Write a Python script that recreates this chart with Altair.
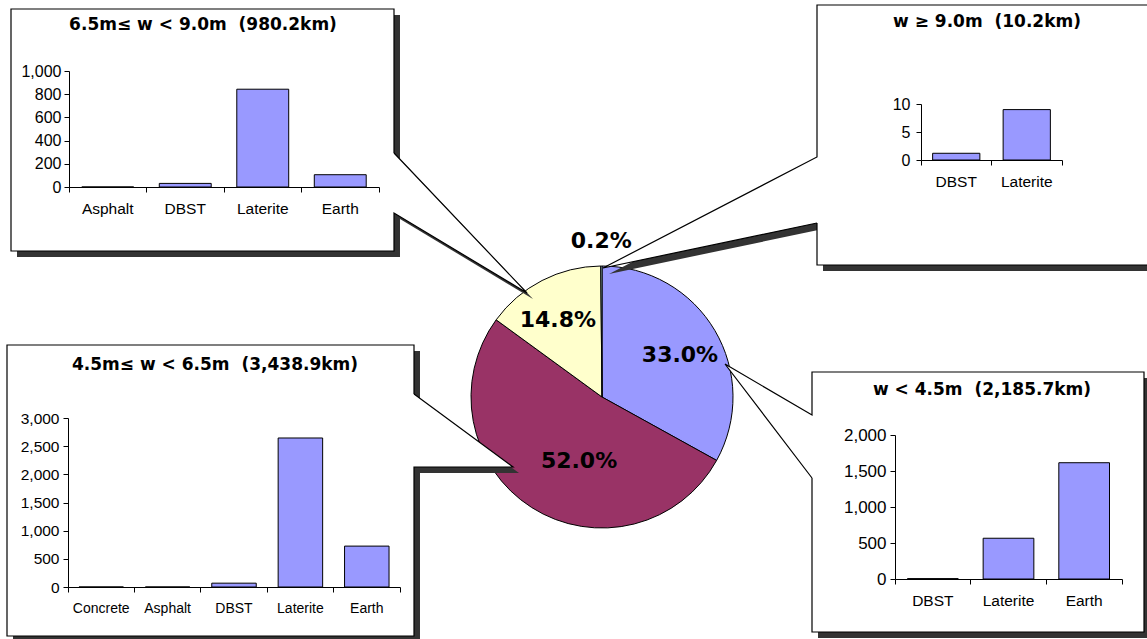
import altair as alt
import pandas as pd

# ---------------- data ----------------
PIE_GROUPS = ["w < 4.5m", "4.5m ≤ w < 6.5m", "6.5m ≤ w < 9.0m", "w ≥ 9.0m"]
PIE_KM = [2185.7, 3438.9, 980.2, 10.2]
PIE_LABELS = ["33.0%", "52.0%", "14.8%", "0.2%"]
PIE_COLORS = ["#9999FF", "#993366", "#FFFFCC", "#CCFFFF"]

A_TITLE = "6.5m\u2264 w < 9.0m\u00a0\u00a0(980.2km)"
A_CATS = ["Asphalt", "DBST", "Laterite", "Earth"]
A_VALS = [0, 31, 843, 106]
A_TICKS = [0, 200, 400, 600, 800, 1000]

B_TITLE = "w \u2265 9.0m\u00a0\u00a0(10.2km)"
B_CATS = ["DBST", "Laterite"]
B_VALS = [1.2, 9.0]
B_TICKS = [0, 5, 10]

C_TITLE = "4.5m\u2264 w < 6.5m\u00a0\u00a0(3,438.9km)"
C_CATS = ["Concrete", "Asphalt", "DBST", "Laterite", "Earth"]
C_VALS = [0, 0, 68, 2645, 726]
C_TICKS = [0, 500, 1000, 1500, 2000, 2500, 3000]

D_TITLE = "w < 4.5m\u00a0\u00a0(2,185.7km)"
D_CATS = ["DBST", "Laterite", "Earth"]
D_VALS = [5, 566, 1615]
D_TICKS = [0, 500, 1000, 1500, 2000]

# ---------------- layout (pixels / degrees) ----------------
W, H = 1147, 639
PIE_CX, PIE_CY, PIE_R = 602, 397, 131
LABEL_R = [88.6, 68, 88.7, 156]      # label distance from pie centre
LABEL_DA = [2.2, -12.8, -2.6, 0.0]   # angular nudge of each label (degrees)
SHADOW = 6
SHADOW_COLOR = "#333333"
BAR_COLOR = "#9999FF"
TITLE_FONT = "DejaVu Sans"
LABEL_FONT = "Liberation Sans"

PANELS = [
    dict(title=A_TITLE, cats=A_CATS, vals=A_VALS, ticks=A_TICKS,
         box=(11, 9, 394, 251), gap=(153, 213), tip=(527, 293),
         title_xy=(203, 25), plot=(69, 379, 187, 71), xfs=15.5, yfs=16, ypad=3),
    dict(title=B_TITLE, cats=B_CATS, vals=B_VALS, ticks=B_TICKS,
         box=(817, 5, 1160, 265), gap=(157, 223), tip=(603, 268),
         title_xy=(987, 22), plot=(921, 1062, 160, 104), xfs=15.5, yfs=16, ypad=6),
    dict(title=C_TITLE, cats=C_CATS, vals=C_VALS, ticks=C_TICKS,
         box=(7, 345, 414, 636), gap=(394, 467), tip=(513, 467),
         title_xy=(215, 365), plot=(68, 400, 587, 418), xfs=14, yfs=15.5, ypad=4),
    dict(title=D_TITLE, cats=D_CATS, vals=D_VALS, ticks=D_TICKS,
         box=(812, 372, 1144, 632), gap=(415, 478), tip=(725, 364),
         title_xy=(982, 390), plot=(895, 1122, 579, 435), xfs=15.5, yfs=17, ypad=4),
]

# ---------------- helper frames for decorations ----------------
rect_rows, wedge_rows, outline_rows, title_rows = [], [], [], []
for i, p in enumerate(PANELS):
    x0, y0, x1, y1 = p["box"]
    g0, g1 = p["gap"]
    tx, ty = p["tip"]
    rect_rows.append(dict(pid=i, x0=x0, x1=x1, y0=y0, y1=y1))
    base_x = x1 if tx > x1 else x0
    wedge_rows.append(dict(pid=i, x=base_x, y=g0, y2=g1))
    wedge_rows.append(dict(pid=i, x=tx, y=ty, y2=ty))
    if base_x == x1:  # wedge on right side
        pts = [(x1, g0), (tx, ty), (x1, g1), (x1, y1), (x0, y1), (x0, y0), (x1, y0), (x1, g0)]
    else:  # wedge on left side
        pts = [(x0, g1), (tx, ty), (x0, g0), (x0, y0), (x1, y0), (x1, y1), (x0, y1), (x0, g1)]
    for k, (px_, py_) in enumerate(pts):
        outline_rows.append(dict(pid=i, k=k, x=px_, y=py_))
    title_rows.append(dict(pid=i, x=p["title_xy"][0], y=p["title_xy"][1], t=p["title"]))

rect_df = pd.DataFrame(rect_rows)
wedge_df = pd.DataFrame(wedge_rows)
outline_df = pd.DataFrame(outline_rows)
title_df = pd.DataFrame(title_rows)

shadow_rect_df = rect_df.assign(x0=rect_df.x0 + SHADOW, x1=rect_df.x1 + SHADOW,
                                y0=rect_df.y0 + SHADOW, y1=rect_df.y1 + SHADOW)
shadow_wedge_df = wedge_df.assign(x=wedge_df.x + SHADOW, y=wedge_df.y + SHADOW,
                                  y2=wedge_df.y2 + SHADOW)

def px(f):
    return alt.X(f, type="quantitative", scale=None, axis=None)

def py(f):
    return alt.Y(f, type="quantitative", scale=None, axis=None)

# ---------------- pie ----------------
pie_df = pd.DataFrame({"group": PIE_GROUPS, "km": PIE_KM, "label": PIE_LABELS,
                       "order": list(range(len(PIE_KM))), "lr": LABEL_R, "da": LABEL_DA})

pie = alt.Chart(pie_df).mark_arc(outerRadius=PIE_R, stroke="black", strokeWidth=1).encode(
    theta=alt.Theta("km:Q", stack=True),
    order=alt.Order("order:Q"),
    color=alt.Color("group:N", scale=alt.Scale(domain=PIE_GROUPS, range=PIE_COLORS), legend=None),
    x=alt.value(PIE_CX), y=alt.value(PIE_CY),
)

pie_labels = alt.Chart(pie_df).transform_joinaggregate(
    total="sum(km)"
).transform_window(
    cum="sum(km)", sort=[alt.SortField("order")], frame=[None, 0]
).transform_calculate(
    mid="datum.cum - datum.km / 2 + datum.da / 360 * datum.total"
).mark_text(font=TITLE_FONT, fontWeight="bold", fontSize=22, color="black").encode(
    theta=alt.Theta("mid:Q"),
    radius=alt.Radius("lr:Q", scale=None),
    text="label:N",
    x=alt.value(PIE_CX), y=alt.value(PIE_CY),
)

# ---------------- callout boxes ----------------
box_shadow = alt.Chart(shadow_rect_df).mark_rect(color=SHADOW_COLOR).encode(
    x=px("x0"), x2="x1", y=py("y0"), y2="y1")
wedge_shadow = alt.Chart(shadow_wedge_df).mark_area(color=SHADOW_COLOR).encode(
    x=px("x"), y=py("y"), y2="y2", detail="pid:N")
box_fill = alt.Chart(rect_df).mark_rect(color="white").encode(
    x=px("x0"), x2="x1", y=py("y0"), y2="y1")
wedge_fill = alt.Chart(wedge_df).mark_area(color="white").encode(
    x=px("x"), y=py("y"), y2="y2", detail="pid:N")
outline = alt.Chart(outline_df).mark_line(color="black", strokeWidth=1.2).encode(
    x=px("x"), y=py("y"), detail="pid:N", order="k:Q")
titles = alt.Chart(title_df).mark_text(font=TITLE_FONT, fontWeight="bold", fontSize=17,
                                       color="black", baseline="middle").encode(
    x=px("x"), y=py("y"), text="t:N")

# ---------------- bar charts ----------------
bar_layers = []
for p in PANELS:
    ax0, ax1, yz, yt = p["plot"]
    df = pd.DataFrame({"cat": p["cats"], "val": p["vals"]})
    bars = alt.Chart(df).mark_bar(color=BAR_COLOR, stroke="black", strokeWidth=1,
                                  width=alt.RelativeBandSize(0.67)).encode(
        x=alt.X("cat:N", sort=p["cats"],
                scale=alt.Scale(range=[ax0, ax1], paddingInner=0, paddingOuter=0),
                axis=alt.Axis(orient="bottom", offset=yz - H, title=None, labelAngle=0,
                              bandPosition=1, tickExtra=True, tickSize=5, tickColor="black",
                              domainColor="black", labelColor="black", labelFont=LABEL_FONT,
                              labelFontSize=p["xfs"], labelPadding=9, grid=False, zindex=1)),
        y=alt.Y("val:Q",
                scale=alt.Scale(domain=[p["ticks"][0], p["ticks"][-1]], range=[yz, yt], nice=False),
                axis=alt.Axis(orient="left", offset=-ax0, title=None, values=p["ticks"],
                              format=",.0f", tickSize=5, tickColor="black", domainColor="black",
                              labelColor="black", labelFont=LABEL_FONT, labelFontSize=p["yfs"],
                              labelPadding=p["ypad"], grid=False, zindex=1)),
    )
    bar_layers.append(bars)

chart = alt.layer(
    pie, box_shadow, wedge_shadow, box_fill, wedge_fill, outline, titles, *bar_layers, pie_labels
).resolve_scale(x="independent", y="independent").properties(
    width=W, height=H, padding=0, autosize="none", background="white"
).configure_view(stroke=None)

chart.save("out.html", embed_options={"renderer": "svg", "actions": False})
